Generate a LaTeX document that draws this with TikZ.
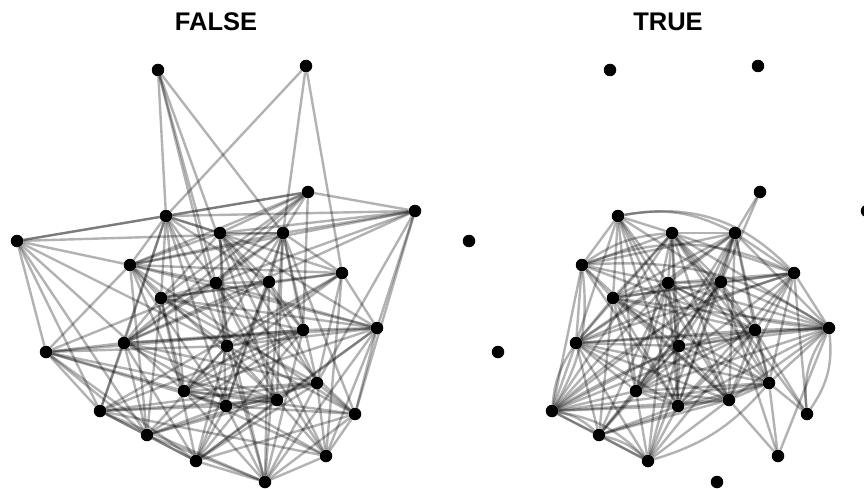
\documentclass[tikz,border=0pt]{standalone}
\usepackage{fontspec}
\setmainfont{Liberation Sans}

\begin{document}
\begin{tikzpicture}[x=1pt, y=-1pt,
    dot/.style={circle, fill=black, inner sep=0pt, minimum size=12.5pt},
    edge/.style={black, opacity=0.3, line width=2.4pt},
    title/.style={font=\bfseries\fontsize{25.5}{30}\selectfont}]
    \useasboundingbox (0,0) rectangle (864,489);
    \clip (0,0) rectangle (864,489);
    % panel titles
    \node[title] (tfalse) at (216,21.5) {FALSE};
    \node[title] (ttrue) at (668,21.5) {TRUE};
    % same layout in both panels, right one shifted by 452
    \foreach \i/\x/\y in {1/158/70, 2/306/66, 3/308/192, 4/166/216, 5/415/211,
        6/17/241, 7/220/233, 8/283/233, 9/130/265, 10/342/273, 11/269/282,
        12/216/283, 13/161/298, 14/377/328, 15/303/330, 16/124/343, 17/227/346,
        18/46/352, 19/317/383, 20/184/391, 21/277/400, 22/226/406, 23/100/411,
        24/355/414, 25/147/435, 26/326/456, 27/196/461, 28/265/482} {
        \node[dot] (f\i) at (\x,\y) {};
        \node[dot] (t\i) at (\x+452,\y) {};
    }
    % FALSE edges
    \foreach \a/\b in {1/4, 1/12, 1/17, 1/21, 1/8, 2/4, 2/8, 2/10,
        3/4, 3/5, 3/6, 3/7, 3/9, 3/13, 3/16, 3/20, 3/15, 3/12,
        4/6, 4/5, 4/9, 4/7, 4/11, 4/13, 4/16, 4/17, 4/20, 4/22, 4/23, 4/12, 4/10,
        5/7, 5/8, 5/9, 5/12, 5/14, 5/19, 5/24, 5/16,
        6/8, 6/9, 6/18, 6/20, 6/23, 6/25, 6/17,
        7/8, 7/9, 7/11, 7/13, 7/14, 7/15, 7/17, 7/22, 7/19, 7/26,
        8/9, 8/11, 8/12, 8/10, 8/15, 8/19, 8/21, 8/22, 8/24, 8/28, 8/16,
        9/12, 9/13, 9/10, 9/14, 9/18, 9/20, 9/22, 9/21, 9/24, 9/25,
        10/11, 10/13, 10/14, 10/17, 10/19, 10/20, 10/26, 10/23,
        11/12, 11/13, 11/15, 11/16, 11/19, 11/22, 11/27, 11/28,
        12/13, 12/14, 12/16, 12/18, 12/21, 12/24, 12/26, 12/28,
        13/14, 13/15, 13/16, 13/17, 13/19, 13/20, 13/25, 13/27,
        14/15, 14/16, 14/17, 14/20, 14/21, 14/24, 14/26, 14/28, 14/27,
        15/16, 15/17, 15/18, 15/20, 15/23, 15/25, 15/27, 15/28,
        16/18, 16/19, 16/21, 16/23, 16/25, 16/26, 16/27,
        17/18, 17/20, 17/21, 17/24, 17/25, 17/28, 17/27,
        18/20, 18/21, 18/22, 18/23, 18/25, 18/27,
        19/20, 19/22, 19/23, 19/24, 19/25, 19/26, 19/27, 19/28,
        20/21, 20/22, 20/24, 20/26, 20/28,
        21/22, 21/23, 21/25, 21/26, 21/27,
        22/23, 22/24, 22/25, 22/27, 22/28,
        23/25, 23/26, 23/27, 23/28,
        24/26, 24/27, 24/28, 25/27, 25/28, 26/28, 27/28}
        \draw[edge] (f\a) -- (f\b);
    % TRUE edges, straight
    \foreach \a/\b in {3/8, 3/11,
        4/9, 4/12, 4/13, 4/16, 4/17, 4/20, 4/21, 4/22, 4/7, 4/11,
        7/8, 7/9, 7/10, 7/11, 7/12, 7/13, 7/15, 7/16, 7/17, 7/19, 7/20, 7/21, 7/22, 7/23, 7/24, 7/14,
        8/9, 8/10, 8/11, 8/12, 8/13, 8/14, 8/15, 8/16, 8/17, 8/19, 8/20, 8/21, 8/22, 8/27,
        9/12, 9/13, 9/15, 9/16, 9/21, 9/22, 9/23,
        10/11, 10/12, 10/13, 10/14, 10/15, 10/16, 10/19, 10/20, 10/21, 10/22, 10/24,
        11/12, 11/13, 11/14, 11/15, 11/16, 11/17, 11/19, 11/20, 11/22, 11/23, 11/25, 11/26,
        12/13, 12/14, 12/15, 12/16, 12/17, 12/19, 12/20, 12/21, 12/22, 12/23, 12/25, 12/27,
        13/14, 13/15, 13/16, 13/17, 13/19, 13/20, 13/21, 13/22, 13/25,
        14/15, 14/16, 14/17, 14/19, 14/21, 14/22, 14/20, 14/26,
        15/16, 15/17, 15/19, 15/20, 15/21, 15/22, 15/24, 15/23, 15/27,
        16/17, 16/19, 16/20, 16/21, 16/22, 16/23, 16/25, 16/27,
        17/19, 17/20, 17/21, 17/22, 17/23, 17/25, 17/27,
        19/20, 19/21, 19/22, 19/23, 19/24, 19/26, 19/25,
        20/21, 20/22, 20/23, 20/25, 20/27,
        21/22, 21/23, 21/25, 21/27, 21/26,
        22/23, 22/25, 22/27, 23/25, 23/27, 25/27}
        \draw[edge] (t\a) -- (t\b);
    % TRUE edges, fanned out
    \foreach \a/\b/\c in {4/10/28, 4/8/18, 9/7/15, 9/10/22, 9/14/18, 23/9/-18,
        14/24/20, 24/14/20, 14/23/-14, 10/23/-12, 23/27/18, 27/19/-16, 23/25/16,
        25/27/14, 16/23/-14, 12/14/-12}
        \draw[edge] (t\a) to[bend left=\c] (t\b);
\end{tikzpicture}
\end{document}
